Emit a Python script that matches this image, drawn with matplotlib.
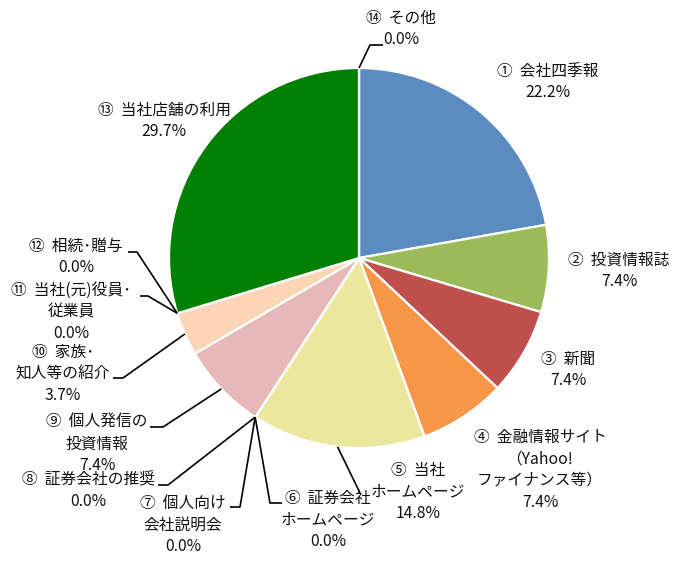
import numpy as np
import matplotlib
matplotlib.use("Agg")
import matplotlib.pyplot as plt

plt.rcParams['font.family'] = ['Noto Sans CJK JP', 'DejaVu Sans']

# ---- data ----
labels = [
    "①  会社四季報", "②  投資情報誌", "③  新聞", "④  金融情報サイト\n（Yahoo!\nファイナンス等）",
    "⑤  当社\nホームページ", "⑥  証券会社\nホームページ", "⑦  個人向け\n会社説明会",
    "⑧  証券会社の推奨", "⑨  個人発信の\n投資情報", "⑩  家族･\n知人等の紹介",
    "⑪  当社(元)役員･\n従業員", "⑫  相続･贈与", "⑬  当社店舗の利用", "⑭  その他",
]
values = [22.2, 7.4, 7.4, 7.4, 14.8, 0.0, 0.0, 0.0, 7.4, 3.7, 0.0, 0.0, 29.7, 0.0]
colors = ["#5B8CC0", "#9BBB59", "#C0504D", "#F79646", "#EBE89E", "#EBE89E", "#EBE89E",
          "#E6B9B8", "#E6B9B8", "#FBD5B5", "#FBD5B5", "#008000", "#008000", "#008000"]

W, H = 690, 561
fig = plt.figure(figsize=(W / 100, H / 100), dpi=100)
ax = fig.add_axes([0, 0, 1, 1])

def Y(py):
    return H - py

CX, CY, R = 359, 258, 190
ax.pie(values, colors=colors, startangle=90, counterclock=False,
       center=(CX, Y(CY)), radius=R,
       wedgeprops=dict(edgecolor="white", linewidth=1.6))
ax.set_xlim(0, W)
ax.set_ylim(0, H)
ax.set_aspect("equal")
ax.axis("off")

# angles of wedge boundaries (degrees, standard orientation)
total = sum(values)
cum = np.concatenate([[0], np.cumsum(values)])
start = 90 - 360 * cum[:-1] / total
end = 90 - 360 * cum[1:] / total
mid = (start + end) / 2

def edge_pt(angle_deg):
    a = np.deg2rad(angle_deg)
    return CX + R * np.cos(a), CY - R * np.sin(a)

# label block centres (pixel coords)
pos = [(548, 82), (619, 271), (568, 370), (540, 470), (418, 492), (328, 520),
       (183, 525), (88, 491), (97, 444), (63, 374), (71, 312), (76, 257),
       (164, 121), (401, 29)]

for i, (lab, v) in enumerate(zip(labels, values)):
    x, y = pos[i]
    ax.text(x, Y(y), f"{lab}\n{v:.1f}%", ha="center", va="center",
            fontsize=11.3, linespacing=1.36, color="#111111")

# leader lines
def leader(pts):
    xs = [p[0] for p in pts]
    ys = [Y(p[1]) for p in pts]
    ax.plot(xs, ys, color="black", lw=1.2, solid_capstyle="butt", zorder=5)

leader([edge_pt(start[13]), (370, 45), (383, 45)])
leader([(128, 252), (137, 252), edge_pt(start[11])])
leader([(140, 296), (148, 296), edge_pt(start[10])])
leader([(113, 378), (123, 378), edge_pt(mid[9])])
leader([(150, 427), (163, 427), edge_pt(mid[8])])
leader([(158, 485), (168, 485), edge_pt(start[7])])
leader([(230, 507), (240, 507), edge_pt(start[6])])
leader([(282, 503), (270, 503), edge_pt(start[5])])
leader([edge_pt(mid[4]), (360, 493)])

fig.savefig("out.png", dpi=100)
